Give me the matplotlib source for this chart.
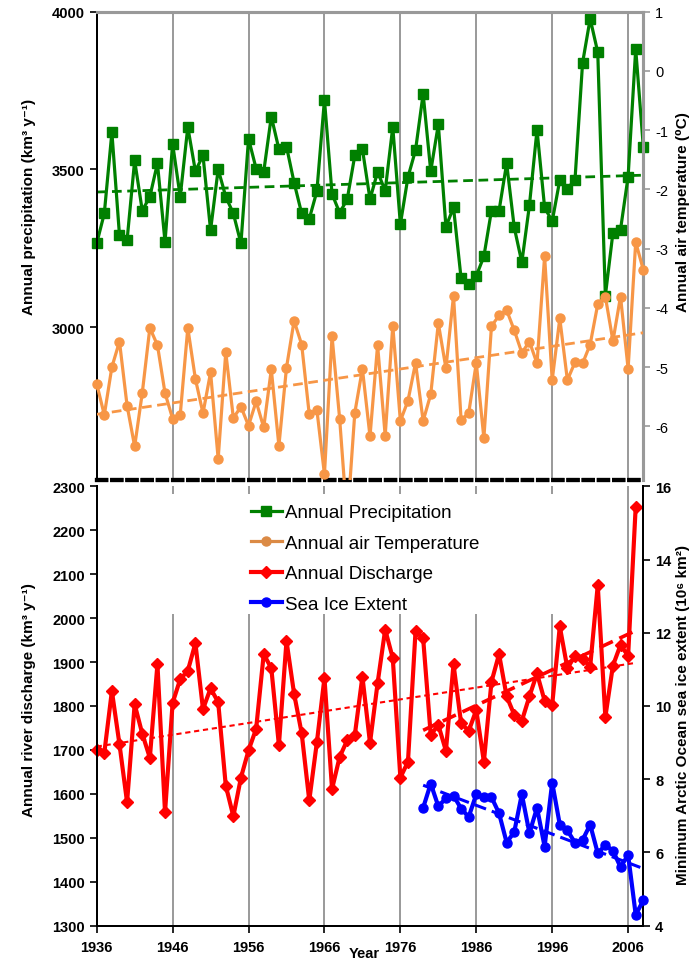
import numpy as np
import matplotlib
matplotlib.use('Agg')
import matplotlib.pyplot as plt
from matplotlib.lines import Line2D
from matplotlib.patches import Rectangle

plt.rcParams['font.family'] = ['Liberation Sans', 'DejaVu Sans']
plt.rcParams['axes.unicode_minus'] = False

# ---------------- data ----------------
years_top = list(range(1936, 2009))
precip = [3265, 3360, 3617, 3291, 3275, 3528, 3369, 3413, 3519, 3270,
          3581, 3413, 3634, 3494, 3544, 3307, 3500, 3413, 3360, 3265,
          3597, 3502, 3492, 3667, 3564, 3572, 3458, 3360, 3343, 3430,
          3720, 3422, 3362, 3405, 3544, 3564, 3405, 3492, 3432, 3634,
          3326, 3475, 3561, 3739, 3494, 3642, 3318, 3379, 3154, 3136,
          3162, 3224, 3369, 3369, 3519, 3316, 3205, 3386, 3625, 3379,
          3335, 3466, 3439, 3466, 3837, 3977, 3871, 3099, 3299, 3309,
          3477, 3881, 3572]
temp = [-5.28, -5.81, -5.00, -4.57, -5.65, -6.34, -5.44, -4.34, -4.63, -5.44,
        -5.87, -5.81, -4.34, -5.20, -5.78, -5.09, -6.55, -4.75, -5.86, -5.67,
        -5.99, -5.58, -6.02, -5.04, -6.33, -5.01, -4.22, -4.62, -5.80, -5.72,
        -6.81, -4.48, -5.87, -7.60, -5.77, -5.03, -6.17, -4.63, -6.16, -4.30,
        -5.91, -5.57, -4.93, -5.91, -5.46, -4.26, -5.02, -3.80, -5.89, -5.78,
        -4.93, -6.20, -4.31, -4.13, -4.04, -4.38, -4.76, -4.57, -4.94, -3.13,
        -5.22, -4.18, -5.22, -4.92, -4.94, -4.62, -3.94, -3.81, -4.56, -3.81,
        -5.03, -2.89, -3.36]
years_q = list(range(1936, 2008))
discharge = [1700, 1693, 1834, 1713, 1581, 1804, 1737, 1682, 1895, 1558,
             1807, 1861, 1880, 1943, 1793, 1840, 1809, 1619, 1549, 1637,
             1699, 1748, 1918, 1886, 1711, 1948, 1828, 1738, 1585, 1717,
             1864, 1611, 1684, 1722, 1734, 1867, 1716, 1852, 1974, 1909,
             1637, 1673, 1971, 1954, 1734, 1757, 1698, 1895, 1761, 1743,
             1791, 1673, 1855, 1918, 1822, 1780, 1766, 1822, 1874, 1812,
             1803, 1981, 1886, 1914, 1908, 1889, 2075, 1775, 1892, 1939,
             1914, 2254]
years_ice = list(range(1979, 2009))
ice = [7.22, 7.88, 7.26, 7.48, 7.55, 7.20, 6.97, 7.59, 7.51, 7.51,
       7.07, 6.27, 6.56, 7.59, 6.53, 7.22, 6.16, 7.91, 6.76, 6.60,
       6.27, 6.34, 6.76, 5.98, 6.20, 6.05, 5.60, 5.93, 4.30, 4.69]
recent_start = 1979
decades = list(range(1936, 2007, 10))
labels = ['Annual Precipitation', 'Annual air Temperature',
          'Annual Discharge', 'Sea Ice Extent']

GREEN = '#008000'
ORANGE = '#F79646'
RED = '#FF0000'
BLUE = '#0000FF'
GRID = '#999999'

W, H = 694, 962
fig = plt.figure(figsize=(W / 100, H / 100), dpi=100)

L, R = 96.7, 643.3
T1, B1 = 12.5, 480.5
T2, B2 = 487.3, 926.7
ax1 = fig.add_axes([L / W, 1 - B1 / H, (R - L) / W, (B1 - T1) / H])
ax1r = ax1.twinx()
ax2 = fig.add_axes([L / W, 1 - B2 / H, (R - L) / W, (B2 - T2) / H])
ax2r = ax2.twinx()


def fit_line(x, y):
    x = np.asarray(x, float)
    c = np.polyfit(x, np.asarray(y, float), 1)
    xe = np.array([x[0], x[-1]])
    return xe, np.polyval(c, xe)


# ---------------- top panel ----------------
for ax in (ax1, ax2):
    ax.set_xlim(1936, 2008)
    ax.set_xticks(decades)
    ax.grid(axis='x', color=GRID, lw=1.4)
    ax.grid(axis='y', visible=False)

ax1.set_ylim(2517, 4000)
ax1r.set_ylim(-6.898, 1.0)

ax1.plot(years_top, precip, color=GREEN, lw=2.3, marker='s', ms=6.5,
         zorder=4, clip_on=False)
xe, ye = fit_line(years_top, precip)
ax1.plot(xe, ye, color=GREEN, lw=2.0, ls=(0, (3.5, 2)), zorder=3)

tline, = ax1r.plot(years_top, temp, color=ORANGE, lw=2.3, marker='o', ms=6.5,
                   zorder=4)
clip_rect = Rectangle((-0.03, 0), 1.06, 1.0, transform=ax1r.transAxes,
                      facecolor='none', edgecolor='none')
ax1r.add_patch(clip_rect)
tline.set_clip_path(clip_rect)
xe, ye = fit_line(years_top, temp)
ax1r.plot(xe, ye, color=ORANGE, lw=2.0, ls=(0, (3.5, 2)), zorder=3)

ax1.set_yticks([3000, 3500, 4000])
ax1.tick_params(axis='y', direction='out', length=5, width=1.2, labelsize=10.5,
                colors='black')
for lab in ax1.get_yticklabels():
    lab.set_fontweight('bold')
ax1.tick_params(axis='x', bottom=False, labelbottom=False, top=False)
ax1r.set_yticks(list(range(-6, 2)))
ax1r.tick_params(axis='y', direction='out', length=5, width=1.2, labelsize=10.5,
                 color=GRID, labelcolor='black')
ax1r.tick_params(axis='x', bottom=False, labelbottom=False)

for ax in (ax1, ax1r):
    ax.spines['top'].set_color(GRID)
    ax.spines['top'].set_linewidth(2.2)
    ax.spines['right'].set_color(GRID)
    ax.spines['right'].set_linewidth(2.2)
    ax.spines['left'].set_color('black')
    ax.spines['left'].set_linewidth(1.4)
    ax.spines['bottom'].set_color('black')
    ax.spines['bottom'].set_linewidth(3.0)
    ax.spines['bottom'].set_linestyle((0, (2.2, 1.45)))

# ---------------- bottom panel ----------------
ax2.set_ylim(1300, 2300)
ax2r.set_ylim(4, 16)

# white box behind the legend hides the grid lines
box_x0, box_x1 = 150 / W, 600 / W
box_y0, box_y1 = 1 - 615 / H, 1 - 495 / H
fig_box = Rectangle((box_x0, box_y0), box_x1 - box_x0, box_y1 - box_y0,
                    transform=fig.transFigure, facecolor='white',
                    edgecolor='none', zorder=1.8)
ax2.add_artist(fig_box)

ax2.plot(years_q, discharge, color=RED, lw=3.0, marker='D', ms=6, zorder=4,
         clip_on=False)
xe, ye = fit_line(years_q, discharge)
ax2.plot(xe, ye, color=RED, lw=1.5, ls=(0, (2.5, 1.8)), zorder=3)
i0 = years_q.index(recent_start)
xe, ye = fit_line(years_q[i0:], discharge[i0:])
ax2.plot(xe, ye, color=RED, lw=2.6, ls=(0, (4, 2)), zorder=3)

ax2r.plot(years_ice, ice, color=BLUE, lw=3.0, marker='o', ms=6.5, zorder=4,
          clip_on=False)
xe, ye = fit_line(years_ice, ice)
ax2r.plot(xe, ye, color=BLUE, lw=2.2, ls=(0, (4, 2)), zorder=3)

ax2.set_yticks(list(range(1300, 2301, 100)))
ax2.tick_params(axis='y', direction='out', length=5, width=1.2, labelsize=10.5)
ax2.tick_params(axis='x', direction='out', length=5, width=1.2, labelsize=10.5,
                pad=5)
for lab in ax2.get_yticklabels() + ax2.get_xticklabels():
    lab.set_fontweight('bold')
ax2r.set_yticks(list(range(4, 17, 2)))
ax2r.tick_params(axis='y', direction='out', length=5, width=1.2, labelsize=10.5)
for lab in ax2r.get_yticklabels():
    lab.set_fontweight('bold')

for ax in (ax2, ax2r):
    ax.spines['top'].set_visible(False)
    for s in ('left', 'right', 'bottom'):
        ax.spines[s].set_color('black')
        ax.spines[s].set_linewidth(1.4)

# legend
handles = [
    Line2D([], [], color=GREEN, lw=2.3, marker='s', ms=6.5),
    Line2D([], [], color='#DB8A45', lw=2.3, marker='o', ms=6.5),
    Line2D([], [], color=RED, lw=3.0, marker='D', ms=6),
    Line2D([], [], color=BLUE, lw=3.0, marker='o', ms=6.5),
]
fig.legend(handles, labels, loc='upper left',
           bbox_to_anchor=(251 / W, 1 - 505 / H), frameon=False,
           fontsize=13.5, handlelength=1.65, handletextpad=0.15,
           labelspacing=0.72, borderpad=0, borderaxespad=0)

# axis labels
lab_kw = dict(rotation=90, ha='center', va='center', fontweight='bold',
              fontsize=11)
fig.text(29 / W, 1 - 207 / H, 'Annual precipitation (km³ y⁻¹)', **lab_kw)
fig.text(683 / W, 1 - 212 / H, 'Annual air temperature (⁰C)', **lab_kw)
fig.text(29 / W, 1 - 700 / H, 'Annual river discharge (km³ y⁻¹)', **lab_kw)
fig.text(683 / W, 1 - 715 / H, 'Minimum Arctic Ocean sea ice extent (10⁶ km²)',
         **lab_kw)
fig.text(364 / W, 1 - 954 / H, 'Year', ha='center', va='center',
         fontweight='bold', fontsize=10.5)

fig.savefig('out.png', dpi=100)
